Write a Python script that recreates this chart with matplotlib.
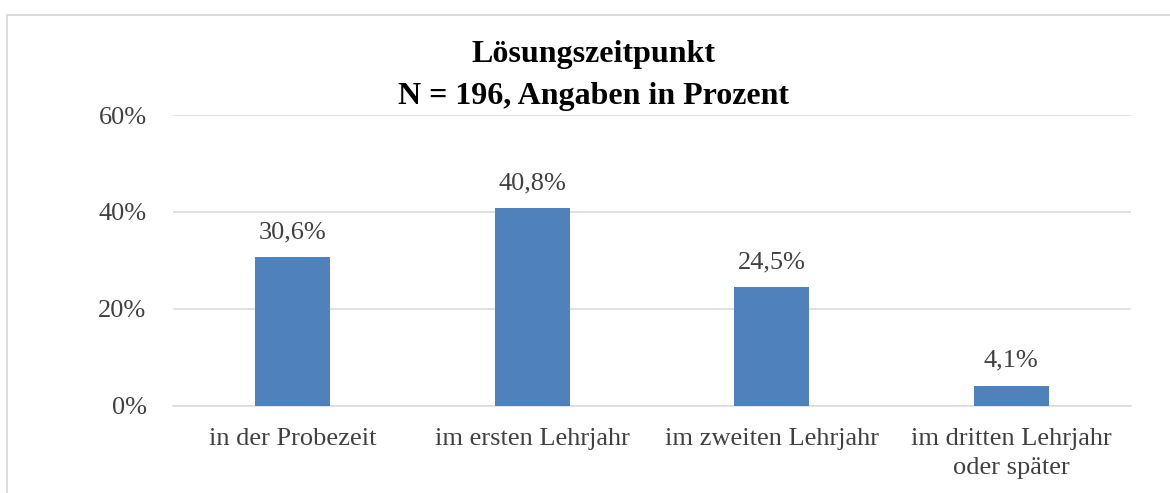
import matplotlib
matplotlib.use("Agg")
import matplotlib.pyplot as plt
from matplotlib.patches import Rectangle

categories = ["in der Probezeit", "im ersten Lehrjahr", "im zweiten Lehrjahr",
              "im dritten Lehrjahr\noder später"]
values = [30.6, 40.8, 24.5, 4.1]
value_labels = ["30,6%", "40,8%", "24,5%", "4,1%"]
yticks = [0, 20, 40, 60]
ytick_labels = ["0%", "20%", "40%", "60%"]
title_line1 = "Lösungszeitpunkt"
title_line2 = "N = 196, Angaben in Prozent"

W, H = 1170, 493
fig = plt.figure(figsize=(W / 100, H / 100), dpi=100)
plt.rcParams['font.family'] = ['Liberation Serif', 'DejaVu Serif']

# outer chart frame (cropped at right and bottom)
fig.patches.append(Rectangle((7 / W, -0.1), 1.2, (H - 15) / H + 0.1,
                             transform=fig.transFigure, fill=False,
                             edgecolor="#d9d9d9", linewidth=1.3))

ax = fig.add_axes([173 / W, 87.5 / H, (1131 - 173) / W, (405.5 - 115) / H])
x = range(len(categories))
ax.bar(x, values, width=0.313, color="#4f81bd", zorder=3)
ax.set_xlim(-0.5, len(categories) - 0.5)
ax.set_ylim(0, 60)
ax.set_yticks(yticks)
ax.set_yticklabels(ytick_labels, fontsize=19, color="#404040")
ax.set_xticks(list(x))
ax.set_xticklabels(categories, fontsize=19, color="#404040", linespacing=1.42)
ax.tick_params(axis="y", length=0, pad=19)
ax.tick_params(axis="x", length=0, pad=16)
ax.grid(axis="y", color="#d9d9d9", linewidth=1.1, zorder=0)
for s in ["top", "right", "left"]:
    ax.spines[s].set_visible(False)
ax.spines["bottom"].set_color("#d9d9d9")
ax.spines["bottom"].set_linewidth(1.1)

for xi, v, lab in zip(x, values, value_labels):
    ax.annotate(lab, (xi, v), xytext=(0, 10), textcoords="offset points",
                ha="center", va="bottom", fontsize=19, color="#404040")

fig.text(594 / W, 1 - 62 / H, title_line1, ha="center", va="baseline",
         fontsize=23, fontweight="bold", color="black")
fig.text(594 / W, 1 - 104 / H, title_line2, ha="center", va="baseline",
         fontsize=23, fontweight="bold", color="black")

fig.savefig("out.png", dpi=100)
